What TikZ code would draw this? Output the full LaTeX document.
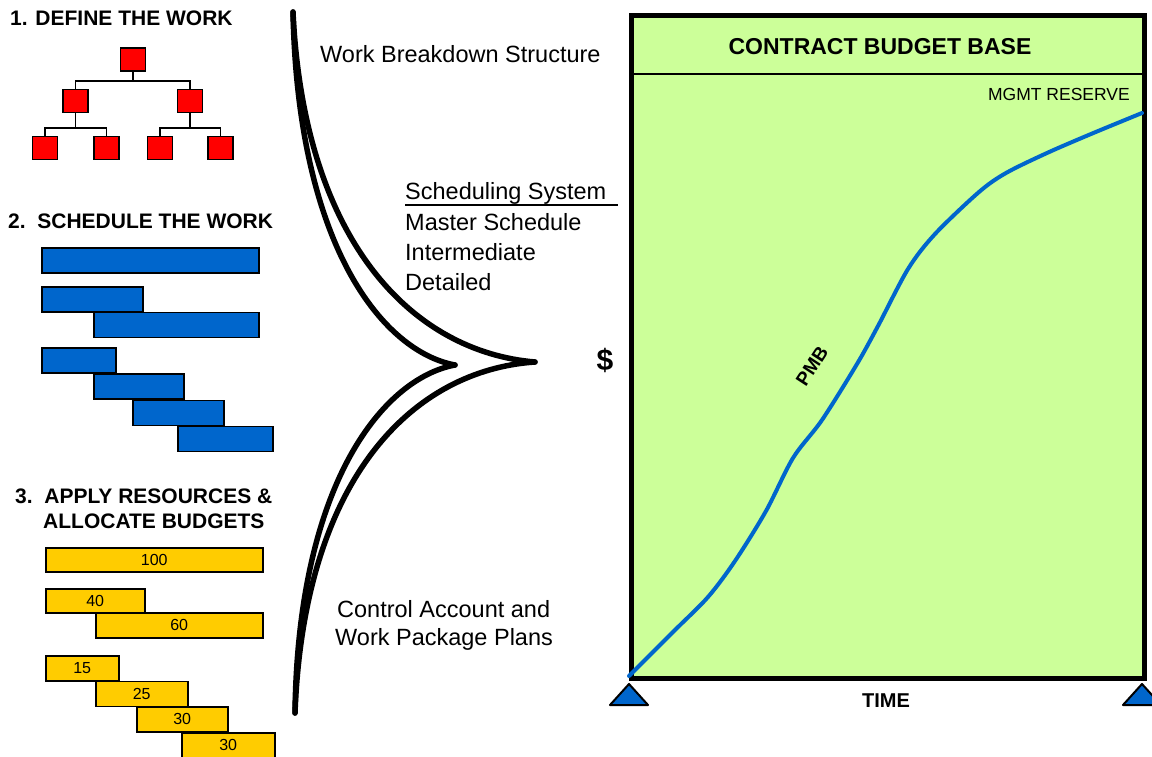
\documentclass[tikz,border=0pt]{standalone}
\usepackage{fontspec}
\setmainfont{Liberation Sans}
\definecolor{wbsred}{RGB}{255,0,0}
\definecolor{gblue}{RGB}{0,102,204}
\definecolor{byellow}{RGB}{255,204,0}
\definecolor{cgreen}{RGB}{204,255,153}
\tikzset{
  wbsbox/.style={draw=black, line width=1.8pt, fill=wbsred, minimum width=25pt, minimum height=23pt, inner sep=0pt},
  wbsline/.style={draw=black, line width=1.8pt},
  gbar/.style={draw=black, line width=1.5pt, fill=gblue, inner sep=0pt, anchor=north west, minimum height=25pt},
  ybar/.style={draw=black, line width=1.5pt, fill=byellow, inner sep=0pt, anchor=north west, minimum height=25pt, font=\fontsize{16}{17}\selectfont},
  title/.style={font=\bfseries\fontsize{21}{24}\selectfont, inner sep=0pt, anchor=base west},
  lbl/.style={font=\fontsize{23.5}{28}\selectfont, inner sep=0pt, anchor=base west},
  funnel/.style={line width=5.5pt, line cap=round, draw=black},
  tri/.style={draw=black, line width=2pt, fill=gblue, line join=round}
}
\begin{document}
\begin{tikzpicture}[x=1pt,y=-1pt]
\useasboundingbox (0,0) rectangle (1152,757);

% ---------- 1. WBS ----------
\node[title] (t1) at (10,26) {1. DEFINE THE WORK};
\node[wbsbox] (w0) at (133,59.5) {};
\node[wbsbox] (w1) at (75.5,101) {};
\node[wbsbox] (w2) at (190,101) {};
\node[wbsbox] (w11) at (45,148) {};
\node[wbsbox] (w12) at (106.5,148) {};
\node[wbsbox] (w21) at (160,148) {};
\node[wbsbox] (w22) at (220.5,148) {};
\draw[wbsline] (w0.south) -- ++(0,9) -| (w1.north);
\draw[wbsline] (w0.south) ++(0,9) -| (w2.north);
\draw[wbsline] (w1.south) -- ++(0,15) -| (w11.north);
\draw[wbsline] (w1.south) ++(0,15) -| (w12.north);
\draw[wbsline] (w2.south) -- ++(0,15) -| (w21.north);
\draw[wbsline] (w2.south) ++(0,15) -| (w22.north);

% ---------- 2. Schedule ----------
\node[title] (t2) at (8,228) {2.\ \ SCHEDULE THE WORK};
\node[gbar, minimum width=217pt] (g1) at (41,247) {};
\node[gbar, minimum width=101pt] (g2) at (41,286) {};
\node[gbar, minimum width=165pt] (g3) at (93,311.5) {};
\node[gbar, minimum width=74pt] (g4) at (41,347) {};
\node[gbar, minimum width=90pt] (g5) at (93,373) {};
\node[gbar, minimum width=91pt] (g6) at (132,399.5) {};
\node[gbar, minimum width=95pt] (g7) at (177,425.5) {};

% ---------- 3. Budgets ----------
\node[title] (t3a) at (15,503) {3.\ \ APPLY RESOURCES \&};
\node[title] (t3b) at (43,528) {ALLOCATE BUDGETS};
\node[ybar, minimum width=217pt, minimum height=24pt] (y1) at (45,547) {100};
\node[ybar, minimum width=99pt, minimum height=24pt] (y2) at (45,588) {40};
\node[ybar, minimum width=167pt] (y3) at (95,612) {60};
\node[ybar, minimum width=73pt] (y4) at (45,655) {15};
\node[ybar, minimum width=92pt] (y5) at (95,680.5) {25};
\node[ybar, minimum width=91pt] (y6) at (136,706) {30};
\node[ybar, minimum width=93pt] (y7) at (181,732) {30};

% ---------- funnel curves ----------
\coordinate (ftop) at (293,12);
\coordinate (fbot) at (295,713);
\coordinate (tipL) at (455,365);
\coordinate (tipR) at (535,362);
\draw[funnel] (ftop) .. controls (298,250) and (385,352) .. (tipL);
\draw[funnel] (ftop) .. controls (304,245) and (415,352) .. (tipR);
\draw[funnel] (fbot) .. controls (298,480) and (385,378) .. (tipL);
\draw[funnel] (fbot) .. controls (304,475) and (415,370) .. (tipR);

% ---------- labels ----------
\node[lbl] (wbs) at (320,63) {Work Breakdown Structure};
\node[lbl] (ss) at (405,200) {Scheduling System};
\draw[line width=1.5pt] (ss.base west) ++(0,5) -- ++(213,0) coordinate (ulend);
\node[lbl] (ms) at (405,230) {Master Schedule};
\node[lbl] (im) at (405,260) {Intermediate};
\node[lbl] (de) at (405,290) {Detailed};
\node[lbl] (ca) at (337,617) {Control Account and};
\node[lbl] (wp) at (335,645) {Work Package Plans};
\node[font=\bfseries\fontsize{30}{32}\selectfont, inner sep=0pt] (dollar) at (605,360) {\$};

% ---------- chart ----------
\node[draw=black, line width=5pt, fill=cgreen, minimum width=513pt, minimum height=663pt, inner sep=0pt, anchor=north west] (chart) at (629,13) {};
\draw[line width=1.5pt] (629,74) -- (1142,74);
\node[font=\bfseries\fontsize{23}{26}\selectfont, inner sep=0pt, anchor=base] (cbb) at (880,55) {CONTRACT BUDGET BASE};
\node[font=\fontsize{17.5}{20}\selectfont, inner sep=0pt, anchor=base east] (mr) at (1130,101) {MGMT RESERVE};
\draw[gblue, line width=4pt, line cap=round] plot[smooth, tension=0.5] coordinates {
 (629,676) (674,631) (708,597) (735,561) (766,511) (793,458) (822,420)
 (857,364) (878,326) (908,269) (935,234) (979,192) (1006,173) (1047,153)
 (1091,134) (1142,113)};
\node[font=\bfseries\fontsize{19}{20}\selectfont, inner sep=0pt, rotate=57] (pmb) at (812,366) {PMB};
\draw[tri] (610,705) -- (629,684) -- (648,705) -- cycle;
\draw[tri] (1123,705) -- (1142,684) -- (1161,705) -- cycle;
\node[font=\bfseries\fontsize{20}{22}\selectfont, inner sep=0pt, anchor=base] (time) at (886,707) {TIME};
\end{tikzpicture}
\end{document}
